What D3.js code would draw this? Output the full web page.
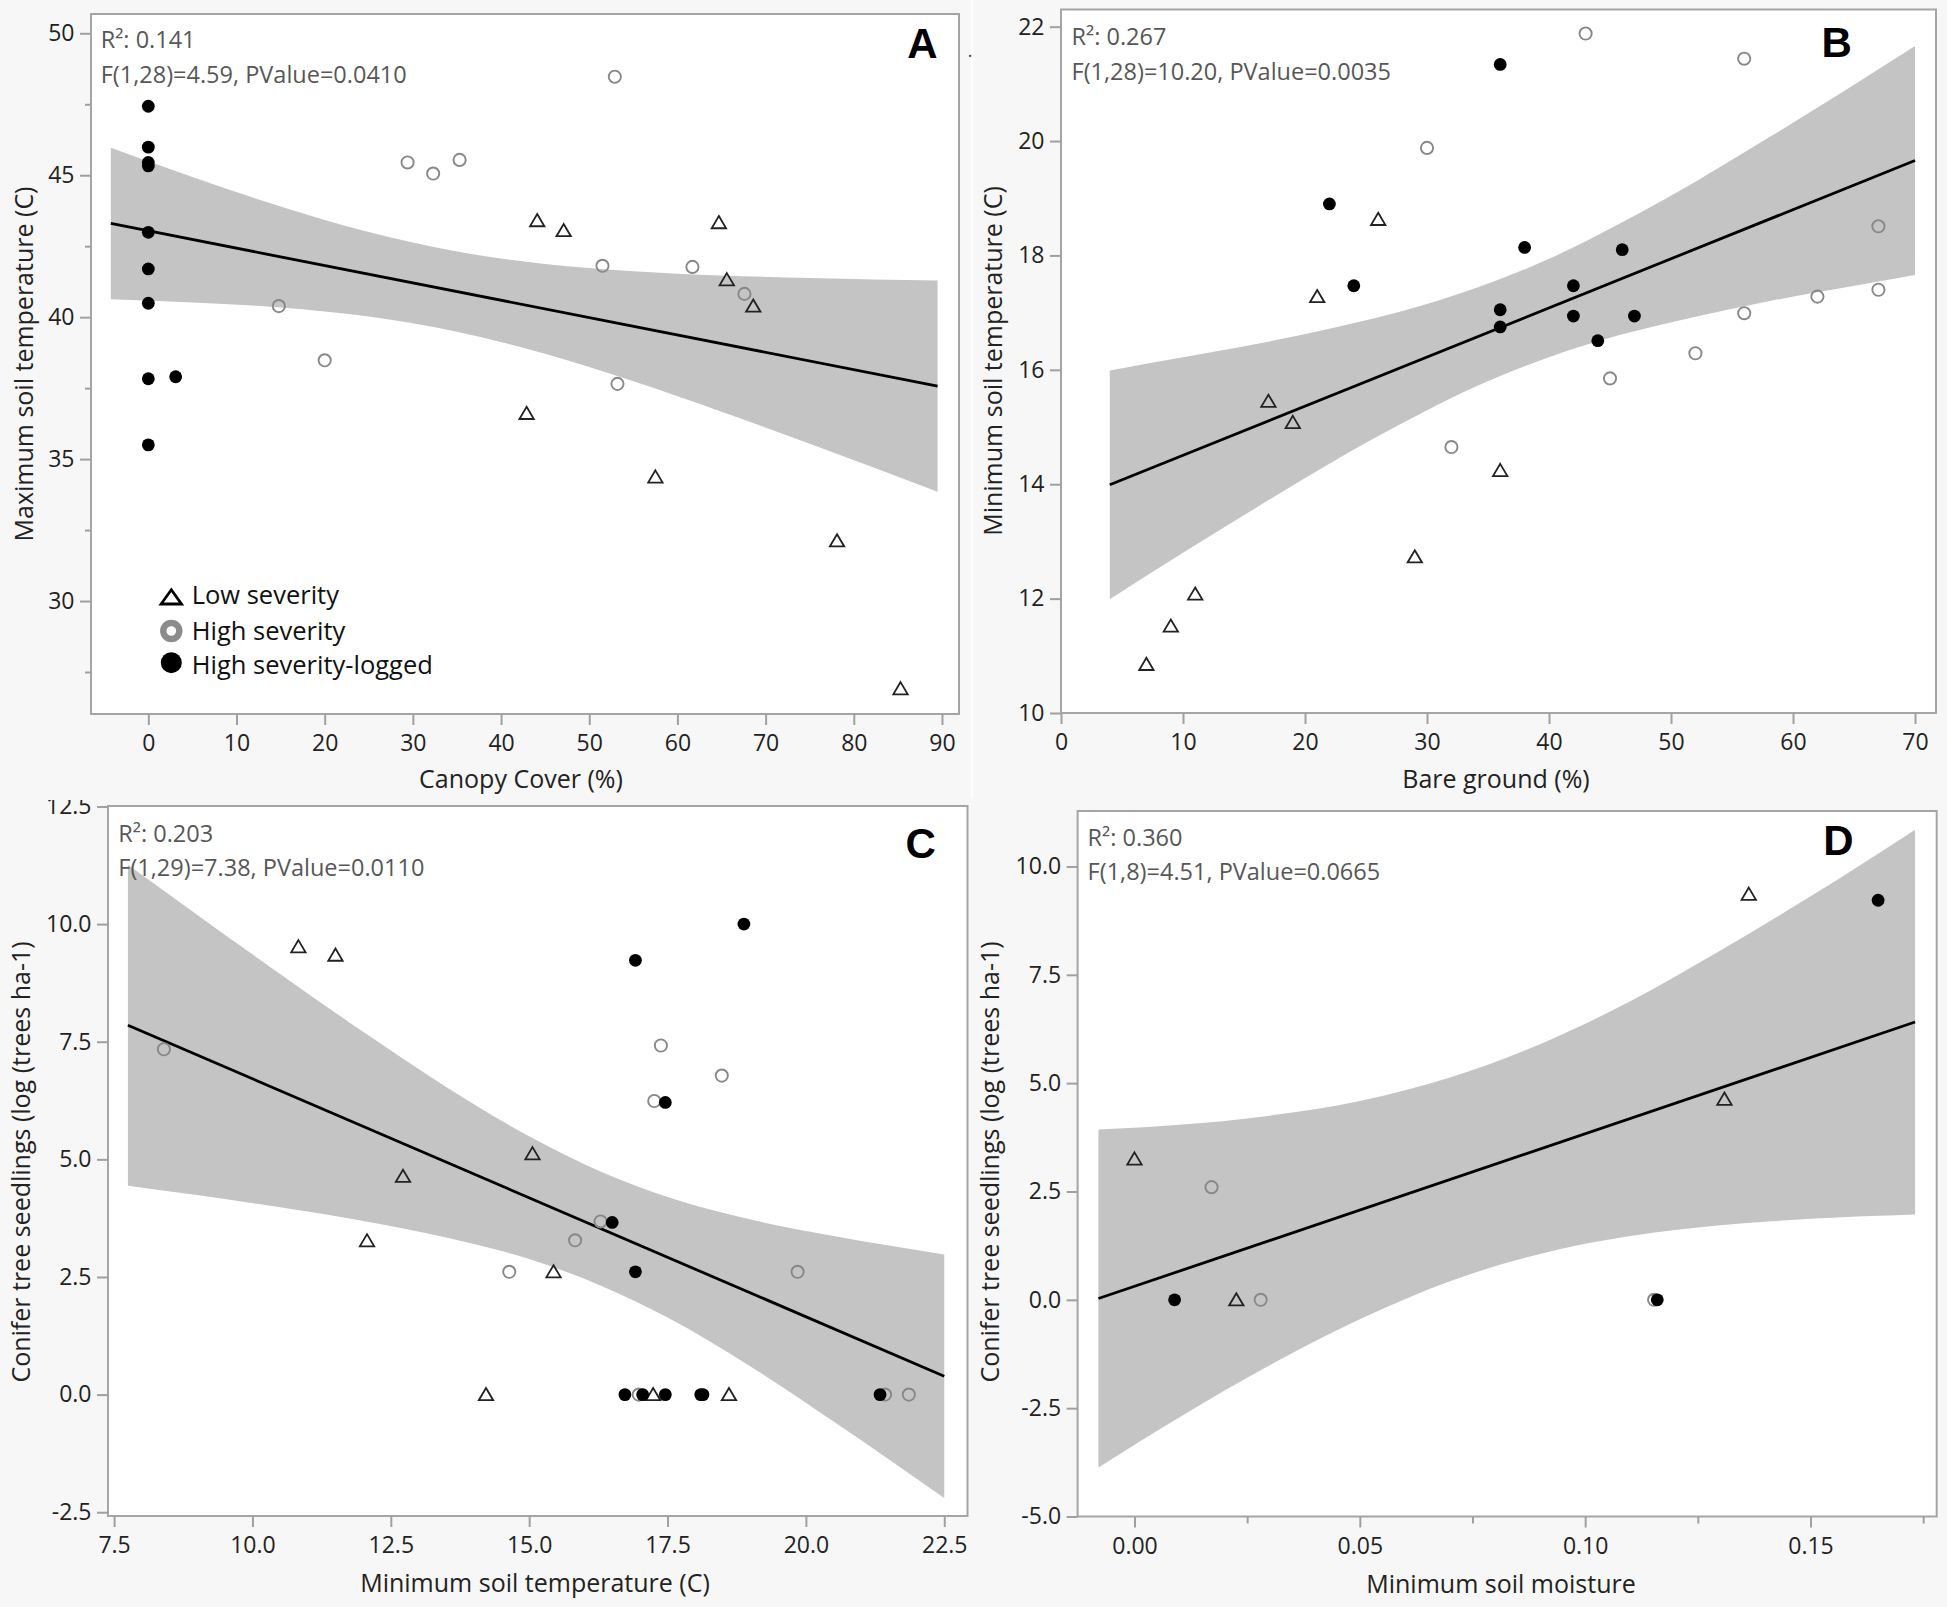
<!DOCTYPE html>
<html><head><meta charset="utf-8">
<script src="https://cdn.jsdelivr.net/npm/d3@7"></script>
<style>
body{margin:0;background:#f7f7f7;}
svg text{font-family:"Open Sans",sans-serif;}
</style></head><body>
<svg id="c" width="1947" height="1607"></svg>
<script>
// ---------- DATA ----------
// Panel A: Canopy cover vs maximum soil temperature
const A_xTicks=[0,10,20,30,40,50,60,70,80,90];
const A_yTicks=[30,35,40,45,50];
const A_yMinor=[27.5,32.5,37.5,42.5,47.5];
const A_low=[[44.1,43.40],[47.1,43.05],[64.7,43.33],[65.6,41.32],[68.6,40.39],[42.9,36.61],[57.5,34.37],[78.1,32.12],[85.3,26.91]];
const A_high=[[52.9,48.47],[29.4,45.45],[32.3,45.06],[35.3,45.54],[14.8,40.39],[20.0,38.48],[51.5,41.81],[61.7,41.77],[67.6,40.82],[53.2,37.65]];
const A_logged=[[0,47.43],[0,45.99],[0,45.45],[0,45.33],[0,42.99],[0,41.70],[0,40.49],[0,37.83],[3.1,37.90],[0,35.50]];
const A_line=[[-4.25,43.30],[89.5,37.57]];
const A_band=[[-4.25,40.63,45.97],[5,40.52,44.94],[15,40.34,43.90],[25,40.02,43.00],[35,39.49,42.31],[45,38.71,41.87],[55,37.74,41.62],[65,36.67,41.47],[75,35.54,41.38],[89.5,33.85,41.29]];
const A_stats=["R²: 0.141","F(1,28)=4.59, PValue=0.0410"];

// Panel B: Bare ground vs minimum soil temperature
const B_xTicks=[0,10,20,30,40,50,60,70];
const B_yTicks=[10,12,14,16,18,20,22];
const B_low=[[26,18.63],[21,17.28],[17,15.45],[19,15.08],[36,14.24],[29,12.73],[11,12.08],[9,11.52],[7,10.85]];
const B_high=[[43,21.88],[56,21.44],[30,19.88],[67,18.51],[67,17.40],[62,17.28],[56,16.99],[52,16.29],[45,15.85],[32,14.65]];
const B_logged=[[36,21.34],[22,18.90],[24,17.47],[38,18.14],[36,17.05],[36,16.75],[42,17.47],[42,16.94],[46,18.10],[44,16.51],[47,16.94]];
const B_line=[[4,13.99],[70,19.66]];
const B_band=[[4,11.99,15.99],[10,12.80,16.22],[16,13.59,16.45],[22,14.36,16.72],[28,15.07,17.03],[34,15.71,17.43],[40,16.22,17.94],[46,16.62,18.58],[52,16.93,19.29],[58,17.20,20.06],[64,17.43,20.85],[70,17.66,21.66]];
const B_stats=["R²: 0.267","F(1,28)=10.20, PValue=0.0035"];

// Panel C: Minimum soil temperature vs conifer seedlings
const C_xTicks=[7.5,10,12.5,15,17.5,20,22.5];
const C_yTicks=[-2.5,0,2.5,5,7.5,10,12.5];
const C_low=[[10.83,9.52],[11.50,9.34],[15.06,5.12],[12.72,4.64],[12.07,3.27],[15.44,2.61],[14.22,0],[17.24,0],[18.61,0]];
const C_high=[[8.40,7.34],[17.38,7.42],[17.26,6.24],[18.48,6.78],[16.29,3.68],[15.83,3.28],[14.64,2.61],[19.85,2.61],[16.98,0],[21.43,0],[21.86,0]];
const C_logged=[[18.88,10.0],[16.92,9.23],[17.46,6.21],[16.50,3.66],[16.92,2.61],[16.73,0],[17.05,0],[17.46,0],[18.10,0],[18.14,0],[21.34,0]];
const C_line=[[7.75,7.85],[22.5,0.39]];
const C_band=[[7.75,4.44,11.26],[9,4.24,10.20],[10.5,3.98,8.94],[12,3.69,7.71],[13.5,3.34,6.54],[15,2.88,5.49],[16.33,2.30,4.72],[17.5,1.64,4.20],[19,0.60,3.72],[20.5,-0.57,3.37],[22.5,-2.20,2.98]];
const C_stats=["R²: 0.203","F(1,29)=7.38, PValue=0.0110"];

// Panel D: Minimum soil moisture vs conifer seedlings
const D_xTicks=[0,0.05,0.10,0.15];
const D_xMinor=[0.025,0.075,0.125,0.175];
const D_yTicks=[-5,-2.5,0,2.5,5,7.5,10];
const D_low=[[0.000,3.25],[0.0226,0],[0.1309,4.63],[0.1363,9.36]];
const D_high=[[0.0171,2.60],[0.0280,0],[0.1153,0]];
const D_logged=[[0.0089,0],[0.1160,0],[0.1650,9.22]];
const D_line=[[-0.008,0.03],[0.1732,6.41]];
const D_band=[[-0.008,-3.87,3.93],[0.01,-2.71,4.04],[0.03,-1.51,4.25],[0.05,-0.45,4.59],[0.07,0.43,5.13],[0.09,1.06,5.90],[0.11,1.47,6.89],[0.13,1.72,8.06],[0.15,1.87,9.31],[0.1732,1.97,10.85]];
const D_stats=["R²: 0.360","F(1,8)=4.51, PValue=0.0665"];

const legendLabels=["Low severity","High severity","High severity-logged"];

// formatters using a plain hyphen for negatives
const fmt=spec=>{const f=d3.format(spec);return v=>f(v).replace("\u2212","-");};

// ---------- LAYOUT ----------
const panels=[
 {id:"A",clip:[0,0,970,799],f:{l:91,r:959,t:14,b:714},xd:[-6.5,91.93],yd:[26.02,50.68],
  xt:A_xTicks,yt:A_yTicks,ym:A_yMinor,xm:[],xf:fmt("d"),yf:fmt("d"),
  xTitle:"Canopy Cover (%)",xTx:521,xTy:788,yTitle:"Maximum soil temperature (C)",yTx:33,yTy:364,
  stats:A_stats,sx:100.7,sy:[48.3,83],lab:[922.5,58],
  low:A_low,high:A_high,logged:A_logged,line:A_line,band:A_band},
 {id:"B",clip:[973,0,974,799],f:{l:1061,r:1936,t:9.5,b:713},xd:[0,71.72],yd:[10,22.3],
  xt:B_xTicks,yt:B_yTicks,ym:[],xm:[],xf:fmt("d"),yf:fmt("d"),
  xTitle:"Bare ground (%)",xTx:1496,xTy:788,yTitle:"Minimum soil temperature (C)",yTx:1002,yTy:361,
  stats:B_stats,sx:1071.5,sy:[45,79.5],lab:[1836.7,57],
  low:B_low,high:B_high,logged:B_logged,line:B_line,band:B_band},
 {id:"C",clip:[0,800,970,807],f:{l:108,r:967.5,t:806,b:1516},xd:[7.39,22.92],yd:[-2.58,12.51],
  xt:C_xTicks,yt:C_yTicks,ym:[],xm:[],xf:fmt(".1f"),yf:fmt(".1f"),
  xTitle:"Minimum soil temperature (C)",xTx:535,xTy:1592,yTitle:"Conifer tree seedlings (log (trees ha-1)",yTx:30,yTy:1162,
  stats:C_stats,sx:118.3,sy:[842,876],lab:[920.6,858],
  low:C_low,high:C_high,logged:C_logged,line:C_line,band:C_band},
 {id:"D",clip:[973,800,974,807],f:{l:1077.6,r:1936.7,t:811,b:1516.5},xd:[-0.01262,0.178],yd:[-5,11.28],
  xt:D_xTicks,yt:D_yTicks,ym:[],xm:D_xMinor,xf:fmt(".2f"),yf:fmt(".1f"),
  xTitle:"Minimum soil moisture",xTx:1501,xTy:1592.5,yTitle:"Conifer tree seedlings (log (trees ha-1)",yTx:999,yTy:1162,
  stats:D_stats,sx:1087.6,sy:[846,880],lab:[1838.5,855],
  low:D_low,high:D_high,logged:D_logged,line:D_line,band:D_band}
];

const svg=d3.select("#c");
svg.append("rect").attr("width",1947).attr("height",1607).attr("fill","#f7f7f7");
svg.append("rect").attr("x",970.5).attr("y",0).attr("width",3).attr("height",799).attr("fill","#fdfdfd");
const defs=svg.append("defs");
const triPath="M0,-6.6L7.2,5.6L-7.2,5.6Z";

panels.forEach(p=>{
  defs.append("clipPath").attr("id","clip"+p.id).append("rect")
    .attr("x",p.clip[0]).attr("y",p.clip[1]).attr("width",p.clip[2]).attr("height",p.clip[3]);
  defs.append("clipPath").attr("id","plot"+p.id).append("rect")
    .attr("x",p.f.l).attr("y",p.f.t).attr("width",p.f.r-p.f.l).attr("height",p.f.b-p.f.t);
  const g=svg.append("g").attr("clip-path","url(#clip"+p.id+")");
  const x=d3.scaleLinear().domain(p.xd).range([p.f.l,p.f.r]);
  const y=d3.scaleLinear().domain(p.yd).range([p.f.b,p.f.t]);

  g.append("rect").attr("x",p.f.l).attr("y",p.f.t).attr("width",p.f.r-p.f.l).attr("height",p.f.b-p.f.t).attr("fill","#ffffff");

  const pg=g.append("g").attr("clip-path","url(#plot"+p.id+")");
  pg.append("path").datum(p.band)
    .attr("d",d3.area().x(d=>x(d[0])).y0(d=>y(d[1])).y1(d=>y(d[2])).curve(d3.curveMonotoneX))
    .attr("fill","#c4c4c4");
  pg.append("path").datum(p.line)
    .attr("d",d3.line().x(d=>x(d[0])).y(d=>y(d[1])))
    .attr("stroke","#000").attr("stroke-width",2.8).attr("fill","none");

  // frame
  g.append("rect").attr("x",p.f.l).attr("y",p.f.t).attr("width",p.f.r-p.f.l).attr("height",p.f.b-p.f.t)
    .attr("fill","none").attr("stroke","#a5a5a5").attr("stroke-width",2);

  // markers
  pg.selectAll(".tri").data(p.low).join("path").attr("d",triPath)
    .attr("transform",d=>`translate(${x(d[0])},${y(d[1])})`)
    .attr("fill","none").attr("stroke","#222").attr("stroke-width",1.8);
  pg.selectAll(".op").data(p.high).join("circle")
    .attr("cx",d=>x(d[0])).attr("cy",d=>y(d[1])).attr("r",6.1)
    .attr("fill","none").attr("stroke","#888").attr("stroke-width",1.9);
  pg.selectAll(".fl").data(p.logged).join("circle")
    .attr("cx",d=>x(d[0])).attr("cy",d=>y(d[1])).attr("r",6.4).attr("fill","#000");

  // axes
  const styleAxis=sel=>{
    sel.select(".domain").remove();
    sel.selectAll(".tick line").attr("stroke","#a0a0a0").attr("stroke-width",2);
    sel.selectAll(".tick text").attr("fill","#222").style("font-size","23px").style("font-family","'Open Sans',sans-serif");
  };
  g.append("g").attr("transform",`translate(0,${p.f.b})`)
    .call(d3.axisBottom(x).tickValues(p.xt).tickSize(11).tickPadding(10).tickFormat(p.xf)).call(styleAxis);
  g.append("g").attr("transform",`translate(${p.f.l},0)`)
    .call(d3.axisLeft(y).tickValues(p.yt).tickSize(11).tickPadding(5.5).tickFormat(p.yf)).call(styleAxis);
  if(p.ym.length){
    g.append("g").attr("transform",`translate(${p.f.l},0)`)
      .call(d3.axisLeft(y).tickValues(p.ym).tickSize(6).tickFormat("")).call(styleAxis);
  }
  if(p.xm.length){
    g.append("g").attr("transform",`translate(0,${p.f.b})`)
      .call(d3.axisBottom(x).tickValues(p.xm).tickSize(7).tickFormat("")).call(styleAxis);
  }

  // titles
  g.append("text").attr("x",p.xTx).attr("y",p.xTy).attr("text-anchor","middle")
    .attr("fill","#222").style("font-size","25px").text(p.xTitle);
  g.append("text").attr("transform",`translate(${p.yTx},${p.yTy}) rotate(-90)`).attr("text-anchor","middle")
    .attr("fill","#222").style("font-size","25px").text(p.yTitle);

  // stats
  p.stats.forEach((s,i)=>{
    g.append("text").attr("x",p.sx).attr("y",p.sy[i]).attr("fill","#575757")
      .style("font-size","23.5px").text(s);
  });
  // panel letter
  g.append("text").attr("x",p.lab[0]).attr("y",p.lab[1]).attr("text-anchor","middle")
    .attr("fill","#000").style("font-size","42px").style("font-weight","bold")
    .style("font-family","'Liberation Sans',Arial,sans-serif").text(p.id);
});

// small stray dot next to panel A
svg.append("text").attr("x",970).attr("y",57).attr("text-anchor","middle").attr("fill","#444").style("font-size","18px").text(".");

// legend (panel A)
const lg=svg.append("g");
lg.append("path").attr("d","M0,-7.2L10.2,7L-10.2,7Z").attr("transform","translate(171.3,597)")
  .attr("fill","none").attr("stroke","#000").attr("stroke-width",2.8);
lg.append("circle").attr("cx",171.3).attr("cy",631).attr("r",8).attr("fill","none").attr("stroke","#8c8c8c").attr("stroke-width",6.4);
lg.append("circle").attr("cx",171.3).attr("cy",662.7).attr("r",10.5).attr("fill","#000");
const lgY=[604,639.5,673.5];
legendLabels.forEach((t,i)=>{
  lg.append("text").attr("x",191.7).attr("y",lgY[i]).attr("fill","#111").style("font-size","25.5px").text(t);
});
</script>
</body></html>
